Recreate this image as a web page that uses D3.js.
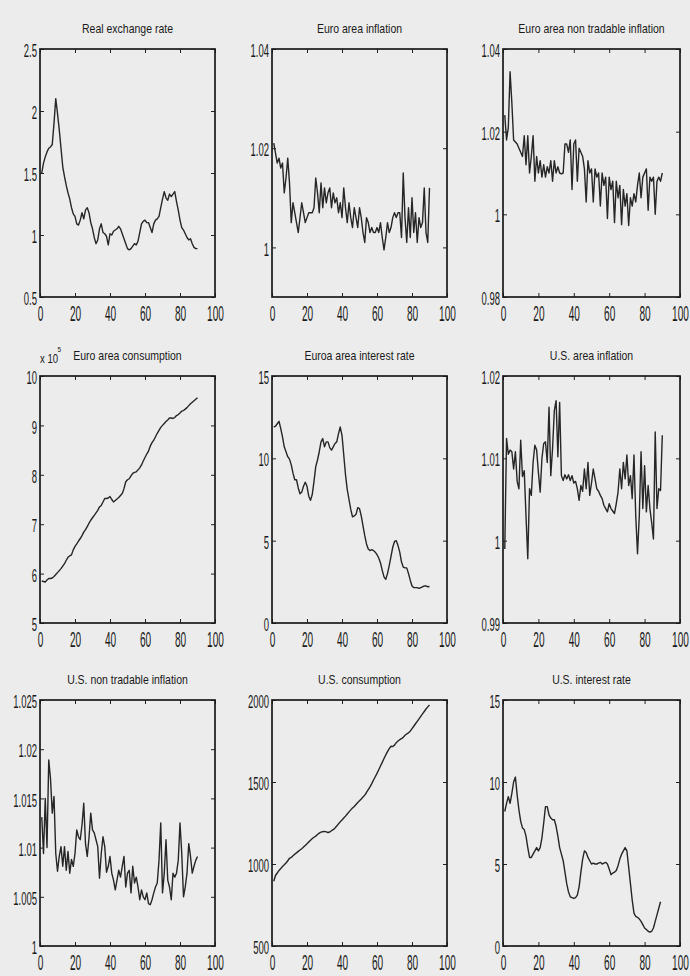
<!DOCTYPE html>
<html>
<head>
<meta charset="utf-8">
<script src="https://cdn.jsdelivr.net/npm/d3@7"></script>
<style>
  body { margin: 0; background: #ececec; }
</style>
</head>
<body>
<div id="chart"></div>
<script>
// panel titles, axis ranges and tick labels
var titles = ["Real exchange rate", "Euro area inflation", "Euro area non tradable inflation",
  "Euro area consumption", "Euroa area interest rate", "U.S. area inflation",
  "U.S. non tradable inflation", "U.S. consumption", "U.S. interest rate"];

var xTicks = [0, 20, 40, 60, 80, 100];

var yDomains = [[0.5, 2.5], [0.99, 1.04], [0.98, 1.04], [5, 10], [0, 15],
  [0.99, 1.02], [1, 1.025], [500, 2000], [0, 15]];

var yTicks = [[0.5, 1, 1.5, 2, 2.5], [1, 1.02, 1.04], [0.98, 1, 1.02, 1.04],
  [5, 6, 7, 8, 9, 10], [0, 5, 10, 15], [0.99, 1, 1.01, 1.02],
  [1, 1.005, 1.01, 1.015, 1.02, 1.025], [500, 1000, 1500, 2000], [0, 5, 10, 15]];

// series, one value per period starting at t = 1
var realExchangeRate = [1.50, 1.58, 1.63, 1.67, 1.70, 1.71, 1.73, 1.90, 2.10, 1.98,
  1.85, 1.70, 1.55, 1.47, 1.40, 1.34, 1.29, 1.22, 1.17, 1.15,
  1.09, 1.08, 1.12, 1.18, 1.13, 1.20, 1.22, 1.18, 1.10, 1.05,
  0.98, 0.93, 0.96, 1.05, 1.09, 1.02, 1.01, 0.99, 0.92, 1.01,
  1.00, 1.03, 1.04, 1.05, 1.07, 1.05, 1.01, 0.97, 0.93, 0.89,
  0.88, 0.89, 0.91, 0.93, 0.92, 0.95, 1.02, 1.09, 1.11, 1.12,
  1.10, 1.10, 1.06, 1.02, 1.09, 1.12, 1.13, 1.15, 1.22, 1.29,
  1.35, 1.30, 1.28, 1.33, 1.31, 1.33, 1.35, 1.27, 1.20, 1.12,
  1.06, 1.04, 1.01, 0.98, 0.96, 0.97, 0.93, 0.90, 0.89, 0.89];

var euroInflation = [1.021, 1.019, 1.017, 1.018, 1.016, 1.017, 1.011, 1.014, 1.018, 1.013,
  1.005, 1.009, 1.007, 1.005, 1.003, 1.006, 1.009, 1.007, 1.005, 1.006,
  1.007, 1.007, 1.007, 1.008, 1.014, 1.011, 1.007, 1.013, 1.008, 1.012,
  1.009, 1.011, 1.012, 1.008, 1.011, 1.009, 1.010, 1.007, 1.009, 1.006,
  1.012, 1.008, 1.005, 1.009, 1.006, 1.004, 1.008, 1.006, 1.004, 1.008,
  1.006, 1.003, 1.001, 1.006, 1.005, 1.003, 1.004, 1.003, 1.003, 1.004,
  1.003, 1.005, 1.002, 0.9995, 1.002, 1.005, 1.003, 1.004, 1.006, 1.007,
  1.006, 1.007, 1.007, 1.002, 1.015, 1.006, 1.001, 1.008, 1.002, 1.010,
  1.003, 1.007, 1.001, 1.006, 1.004, 1.005, 1.012, 1.003, 1.001, 1.012];

var euroNonTradable = [1.024, 1.018, 1.021, 1.0345, 1.027, 1.018, 1.0175, 1.017, 1.016, 1.015,
  1.014, 1.019, 1.012, 1.019, 1.010, 1.014, 1.019, 1.008, 1.014, 1.010,
  1.013, 1.009, 1.012, 1.009, 1.0115, 1.010, 1.013, 1.008, 1.013, 1.010,
  1.0115, 1.010, 1.0098, 1.010, 1.017, 1.017, 1.015, 1.018, 1.006, 1.017,
  1.018, 1.008, 1.016, 1.015, 1.014, 1.011, 1.003, 1.013, 1.010, 1.011,
  1.003, 1.011, 1.009, 1.010, 1.002, 1.010, 1.007, 1.009, 0.999, 1.009,
  1.006, 1.008, 0.998, 1.008, 1.004, 1.007, 0.9975, 1.006, 1.002, 1.005,
  0.9973, 1.004, 1.002, 1.005, 1.003, 1.007, 1.010, 1.004, 1.009, 1.010,
  1.011, 1.001, 1.009, 1.008, 1.009, 1.000, 1.008, 1.009, 1.008, 1.010];

// x 10^5
var euroConsumption = [5.85, 5.84, 5.83, 5.87, 5.90, 5.90, 5.91, 5.94, 5.98, 6.02,
  6.06, 6.10, 6.15, 6.20, 6.27, 6.33, 6.36, 6.38, 6.48, 6.55,
  6.60, 6.66, 6.71, 6.77, 6.84, 6.89, 6.95, 7.02, 7.08, 7.13,
  7.18, 7.23, 7.28, 7.35, 7.38, 7.45, 7.52, 7.52, 7.53, 7.56,
  7.50, 7.45, 7.48, 7.51, 7.54, 7.58, 7.62, 7.72, 7.86, 7.90,
  7.92, 7.98, 8.03, 8.05, 8.06, 8.10, 8.14, 8.20, 8.28, 8.35,
  8.42, 8.48, 8.58, 8.65, 8.70, 8.77, 8.84, 8.90, 8.96, 9.00,
  9.04, 9.08, 9.11, 9.15, 9.15, 9.14, 9.16, 9.20, 9.22, 9.25,
  9.29, 9.30, 9.33, 9.36, 9.40, 9.44, 9.47, 9.50, 9.53, 9.56];

var euroInterestRate = [11.9, 11.95, 12.1, 12.25, 11.8, 11.3, 10.7, 10.4, 10.1, 9.95,
  9.6, 9.1, 8.7, 8.7, 8.2, 7.85, 7.95, 8.3, 8.55, 8.3,
  7.7, 7.45, 7.8, 8.6, 9.5, 9.9, 10.4, 11.0, 11.2, 10.7,
  11.0, 11.0, 10.65, 10.5, 10.7, 10.9, 11.0, 11.5, 11.9, 11.4,
  10.2, 9.0, 8.1, 7.5, 6.9, 6.45, 6.5, 6.6, 7.0, 6.95,
  6.5, 5.9, 5.3, 4.8, 4.5, 4.4, 4.45, 4.4, 4.3, 4.15,
  3.95, 3.65, 3.2, 2.8, 2.65, 3.0, 3.5, 4.05, 4.6, 4.95,
  5.0, 4.7, 4.3, 3.7, 3.4, 3.35, 3.35, 3.0, 2.6, 2.25,
  2.15, 2.15, 2.15, 2.1, 2.15, 2.2, 2.25, 2.25, 2.2, 2.22];

var usInflation = [0.999, 1.0124, 1.0105, 1.011, 1.0108, 1.0087, 1.0108, 1.0072, 1.0063, 1.0122,
  1.0078, 1.0085, 1.003, 0.9978, 1.0063, 1.0055, 1.0095, 1.0116, 1.0110, 1.0083,
  1.0059, 1.0100, 1.0118, 1.0120, 1.0095, 1.0162, 1.0079, 1.0112, 1.0158, 1.0170,
  1.0102, 1.0168, 1.0079, 1.0073, 1.0080, 1.0075, 1.0080, 1.0073, 1.0079, 1.0070,
  1.0072, 1.0063, 1.0049, 1.0067, 1.0060, 1.0087, 1.0063, 1.0095, 1.0055, 1.0070,
  1.0087, 1.0075, 1.0063, 1.0060, 1.0055, 1.0051, 1.0043, 1.0039, 1.0035, 1.0045,
  1.0039, 1.0036, 1.0033, 1.0045, 1.0059, 1.0087, 1.0063, 1.0095, 1.0075, 1.0104,
  1.0067, 1.0079, 1.0051, 1.0104, 1.0030, 0.9984, 1.0030, 1.0108, 1.0039, 1.0091,
  1.0035, 1.0067, 1.0039, 1.0022, 1.0002, 1.0132, 1.0039, 1.0063, 1.0061, 1.0128];

var usNonTradable = [1.0131, 1.0094, 1.0150, 1.0100, 1.0189, 1.0170, 1.0135, 1.0152, 1.0094, 1.0076,
  1.0091, 1.0101, 1.0081, 1.0101, 1.0077, 1.0096, 1.0074, 1.0088, 1.0081, 1.0094,
  1.0118, 1.0111, 1.0108, 1.0123, 1.0145, 1.0104, 1.0091, 1.0110, 1.0135, 1.0118,
  1.0115, 1.0108, 1.0101, 1.0069, 1.0094, 1.0111, 1.0101, 1.0075, 1.0081, 1.0091,
  1.0074, 1.0067, 1.0057, 1.0067, 1.0077, 1.0070, 1.0081, 1.0091, 1.0060, 1.0074,
  1.0077, 1.0054, 1.0081, 1.0064, 1.0070, 1.0060, 1.0047, 1.0057, 1.0050, 1.0047,
  1.0054, 1.0043, 1.0042, 1.0047, 1.0054, 1.0060, 1.0064, 1.0087, 1.0125, 1.0054,
  1.0074, 1.0108, 1.0067, 1.0060, 1.0047, 1.0074, 1.0070, 1.0074, 1.0087, 1.0125,
  1.0094, 1.0050, 1.0060, 1.0074, 1.0104, 1.0091, 1.0074, 1.0081, 1.0087, 1.0091];

var usConsumption = [895, 930, 945, 961, 972, 985, 995, 1006, 1020, 1035,
  1040, 1050, 1060, 1068, 1077, 1085, 1093, 1103, 1113, 1123,
  1134, 1145, 1155, 1163, 1170, 1180, 1188, 1194, 1197, 1199,
  1196, 1192, 1195, 1203, 1209, 1220, 1232, 1245, 1257, 1268,
  1280, 1292, 1305, 1318, 1330, 1341, 1351, 1363, 1375, 1385,
  1396, 1408, 1420, 1436, 1453, 1470, 1490, 1512, 1532, 1553,
  1575, 1598, 1620, 1643, 1665, 1685, 1703, 1718, 1716, 1725,
  1740, 1750, 1758, 1765, 1772, 1785, 1793, 1800, 1810, 1825,
  1840, 1855, 1870, 1885, 1900, 1915, 1930, 1945, 1958, 1970];

var usInterestRate = [8.2, 8.7, 9.1, 8.7, 9.3, 10.0, 10.3, 9.2, 8.3, 7.6,
  7.2, 7.1, 6.7, 6.0, 5.4, 5.4, 5.6, 5.8, 6.0, 5.8,
  6.0, 6.6, 7.5, 8.5, 8.5, 8.0, 7.8, 7.7, 7.7, 7.3,
  6.7, 6.0, 5.6, 5.2, 4.5, 3.8, 3.3, 3.0, 2.95, 2.9,
  2.95, 3.1, 3.6, 4.5, 5.3, 5.8, 5.7, 5.4, 5.2, 5.0,
  5.05, 5.0, 5.0, 5.05, 5.1, 5.0, 5.05, 5.1, 5.0, 4.7,
  4.35, 4.45, 4.5, 4.6, 4.9, 5.3, 5.6, 5.8, 6.0, 5.8,
  4.8, 3.8, 2.8, 2.0, 1.8, 1.75, 1.65, 1.5, 1.3, 1.1,
  1.0, 0.9, 0.85, 0.9, 1.1, 1.5, 1.9, 2.3, 2.7];

var series = [realExchangeRate, euroInflation, euroNonTradable,
  euroConsumption, euroInterestRate, usInflation,
  usNonTradable, usConsumption, usInterestRate];

var svgWidth = 690;
var svgHeight = 976;

// box edges of the 3x3 subplots
var colLeft = [40, 272, 503];
var colRight = [215, 447, 680];
var rowTop = [49, 376, 700];
var rowBottom = [297, 623, 946];

var xSqueeze = 0.47, ySqueeze = 0.5, titleSqueeze = 0.84;

var svg = d3.select("#chart")
  .append("svg")
  .attr("width", svgWidth)
  .attr("height", svgHeight)
  .style("background", "#ececec");

var fmt = function(d) { return String(+d.toFixed(4)); };

series.forEach(function(values, i) {
  var col = i % 3, row = Math.floor(i / 3);
  var w = colRight[col] - colLeft[col];
  var h = rowBottom[row] - rowTop[row];

  var g = svg.append("g")
    .attr("transform", `translate(${colLeft[col]}, ${rowTop[row]})`);

  var x = d3.scaleLinear().domain([0, 100]).range([0, w]);
  var y = d3.scaleLinear().domain(yDomains[i]).range([h, 0]);

  // bottom axis with labels, ticks pointing in
  var bottom = g.append("g")
    .attr("transform", `translate(0, ${h})`)
    .call(d3.axisBottom(x).tickValues(xTicks).tickSizeInner(-4).tickSizeOuter(0)
      .tickPadding(9).tickFormat(fmt));
  bottom.selectAll("text")
    .attr("transform", `scale(${xSqueeze},1)`)
    .style("font-family", "'Liberation Sans', Arial, sans-serif")
    .style("font-size", "21.5px")
    .attr("fill", "#1a1a1a");

  var left = g.append("g")
    .call(d3.axisLeft(y).tickValues(yTicks[i]).tickSizeInner(-4).tickSizeOuter(0)
      .tickFormat(fmt));
  left.selectAll("text")
    .attr("x", -3 / ySqueeze)
    .attr("dy", "0.4em")
    .attr("transform", `scale(${ySqueeze},1)`)
    .style("font-family", "'Liberation Sans', Arial, sans-serif")
    .style("font-size", "19px")
    .attr("fill", "#1a1a1a");

  // mirrored ticks on top and right
  g.append("g")
    .call(d3.axisTop(x).tickValues(xTicks).tickSizeInner(-4).tickSizeOuter(0).tickFormat(""));
  g.append("g")
    .attr("transform", `translate(${w}, 0)`)
    .call(d3.axisRight(y).tickValues(yTicks[i]).tickSizeInner(-4).tickSizeOuter(0).tickFormat(""));

  g.selectAll(".domain").remove();
  g.selectAll(".tick line").attr("stroke", "#222").attr("stroke-width", 1);

  // the series
  var line = d3.line()
    .x(function(d, j) { return x(j + 1); })
    .y(function(d) { return y(d); });

  g.append("path")
    .datum(values)
    .attr("d", line)
    .attr("fill", "none")
    .attr("stroke", "#262626")
    .attr("stroke-width", 1.4)
    .attr("stroke-linejoin", "round");

  // axes box
  g.append("rect")
    .attr("width", w)
    .attr("height", h)
    .attr("fill", "none")
    .attr("stroke", "#1a1a1a")
    .attr("stroke-width", 1.7);

  // title
  g.append("text")
    .attr("x", (w / 2) / titleSqueeze)
    .attr("y", -16)
    .attr("transform", `scale(${titleSqueeze},1)`)
    .attr("text-anchor", "middle")
    .style("font-family", "'Liberation Sans', Arial, sans-serif")
    .style("font-size", "12.5px")
    .attr("fill", "#1a1a1a")
    .text(titles[i]);

  // exponent note on the consumption panel
  if (i === 3) {
    g.append("text")
      .attr("x", 0)
      .attr("y", -13)
      .attr("transform", "scale(0.8,1)")
      .style("font-family", "'Liberation Sans', Arial, sans-serif")
      .style("font-size", "12px")
      .attr("fill", "#1a1a1a")
      .text("x 10");
    g.append("text")
      .attr("x", 17.5 / 0.8)
      .attr("y", -24)
      .attr("transform", "scale(0.8,1)")
      .style("font-family", "'Liberation Sans', Arial, sans-serif")
      .style("font-size", "8px")
      .attr("fill", "#1a1a1a")
      .text("5");
  }
});
</script>
</body>
</html>
